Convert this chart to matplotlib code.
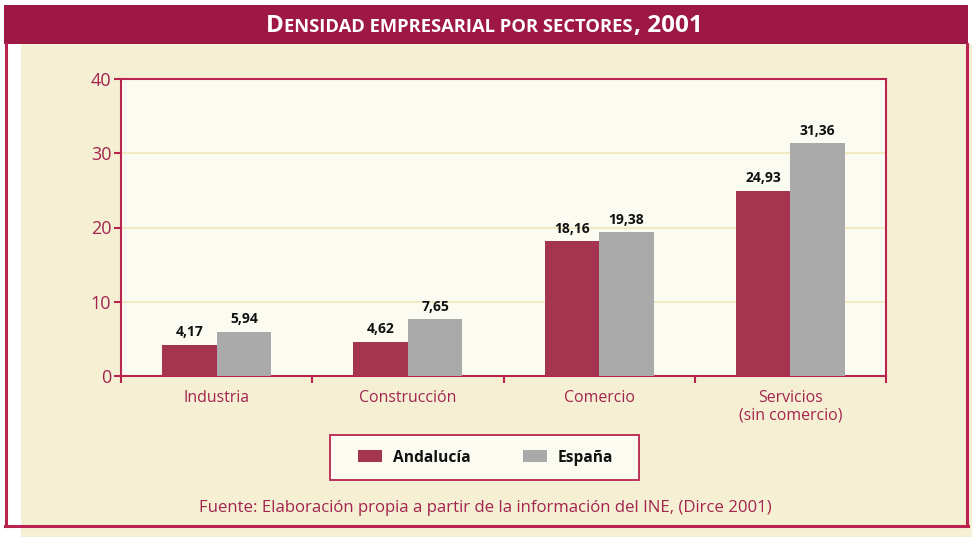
import matplotlib.pyplot as plt
from matplotlib.patches import Rectangle
from matplotlib.lines import Line2D

plt.rcParams['font.family'] = ['Open Sans', 'DejaVu Sans']

# data
sectores = ['Industria', 'Construcción', 'Comercio', 'Servicios\n(sin comercio)']
andalucia = [4.17, 4.62, 18.16, 24.93]
espana = [5.94, 7.65, 19.38, 31.36]
etiq_and = ['4,17', '4,62', '18,16', '24,93']
etiq_esp = ['5,94', '7,65', '19,38', '31,36']

W, H = 972, 537
ROJO = '#9e1845'
BEIGE = '#f5f0d3'
CREMA = '#fcfbf2'
TXT = '#a3244f'
C_AND = '#a53450'
C_ESP = '#aaaaaa'


def px(x, y):
    return x / W, 1 - y / H


fig = plt.figure(figsize=(W / 100, H / 100), dpi=100)
fig.patch.set_facecolor('white')

# background panel and frame
x0, y0 = px(21, 537)
x1, y1 = px(972, 44)
fig.patches.append(Rectangle((x0, y0), x1 - x0, y1 - y0, transform=fig.transFigure,
                             facecolor=BEIGE, edgecolor='none', zorder=0))
bx0, by0 = px(4, 44)
bx1, by1 = px(968, 5)
fig.patches.append(Rectangle((bx0, by0), bx1 - bx0, by1 - by0, transform=fig.transFigure,
                             facecolor=ROJO, edgecolor='none', zorder=1))
for xs, ys in [((6, 6), (44, 526)), ((5, 968), (526, 526)), ((967, 967), (44, 526))]:
    a = px(xs[0], ys[0])
    b = px(xs[1], ys[1])
    fig.lines.append(Line2D([a[0], b[0]], [a[1], b[1]], transform=fig.transFigure,
                            color='#b8234f', lw=2.2, zorder=2))

# title in small caps
r = fig.canvas.get_renderer()
trozos = [('D', 17.5), ('ENSIDAD EMPRESARIAL POR SECTORES', 13.2), (', 2001', 17.5)]
txts = []
for s, fs in trozos:
    t = fig.text(0, px(0, 32)[1], s, fontsize=fs, color='white', fontweight='bold',
                 va='baseline', ha='left')
    txts.append(t)
anchos = [t.get_window_extent(r).width for t in txts]
gap = 1.0
total = sum(anchos) + gap * 2
xpos = 484 - total / 2
for t, w in zip(txts, anchos):
    t.set_x(xpos / W)
    xpos += w + gap

# axes
l, b = px(121, 376)
rr, tt = px(886, 79)
ax = fig.add_axes([l, b, rr - l, tt - b])
ax.set_zorder(5)
ax.set_facecolor(CREMA)

pos = range(len(sectores))
bw = 0.285
ax.bar([p - bw / 2 for p in pos], andalucia, bw, color=C_AND, label='Andalucía', zorder=3)
ax.bar([p + bw / 2 for p in pos], espana, bw, color=C_ESP, label='España', zorder=3)

for p, v, s in zip(pos, andalucia, etiq_and):
    ax.annotate(s, (p - bw / 2, v), xytext=(0, 4), textcoords='offset points',
                ha='center', va='bottom', fontsize=10, fontweight='bold', color='#111111')
for p, v, s in zip(pos, espana, etiq_esp):
    ax.annotate(s, (p + bw / 2, v), xytext=(0, 4), textcoords='offset points',
                ha='center', va='bottom', fontsize=10, fontweight='bold', color='#111111')

ax.set_xlim(-0.5, 3.5)
ax.set_ylim(0, 40)
ax.set_yticks([0, 10, 20, 30, 40])
ax.yaxis.grid(True, color='#efe6b8', lw=1.2, zorder=1)
ax.set_axisbelow(True)

ax.set_xticks([-0.5, 0.5, 1.5, 2.5, 3.5])
ax.set_xticklabels([])
ax.set_xticks(list(pos), minor=True)
ax.set_xticklabels(sectores, minor=True, fontsize=11.4, color=TXT, linespacing=1.15)
ax.tick_params(axis='x', which='minor', length=0, pad=10)
ax.tick_params(axis='x', which='major', length=5, width=1.5, color='#b8234f')
ax.tick_params(axis='y', length=5, width=1.5, color='#b8234f', labelsize=13,
               labelcolor=TXT, pad=2)
for sp in ax.spines.values():
    sp.set_color('#b8234f')
    sp.set_linewidth(1.5)

# legend box drawn by hand, legend entries centred inside it
lx0, ly0 = px(330, 480)
lx1, ly1 = px(639, 435)
fig.patches.append(Rectangle((lx0, ly0), lx1 - lx0, ly1 - ly0, transform=fig.transFigure,
                             facecolor=CREMA, edgecolor='#b8234f', lw=1.3, zorder=3))
leg = fig.legend(loc='center', bbox_to_anchor=((lx0 + lx1) / 2 + 1 / W, (ly0 + ly1) / 2),
                 ncol=2, frameon=False, fontsize=11.2,
                 handlelength=1.55, handleheight=0.75, handletextpad=0.65,
                 columnspacing=3.4)
leg.set_zorder(6)
for t in leg.get_texts():
    t.set_fontweight('bold')
    t.set_color('#111111')

fx, fy = px(485, 508)
fig.text(fx, fy, 'Fuente: Elaboración propia a partir de la información del INE, (Dirce 2001)',
         ha='center', va='center', fontsize=12.1, color=TXT)

plt.savefig('out.png', dpi=100)
